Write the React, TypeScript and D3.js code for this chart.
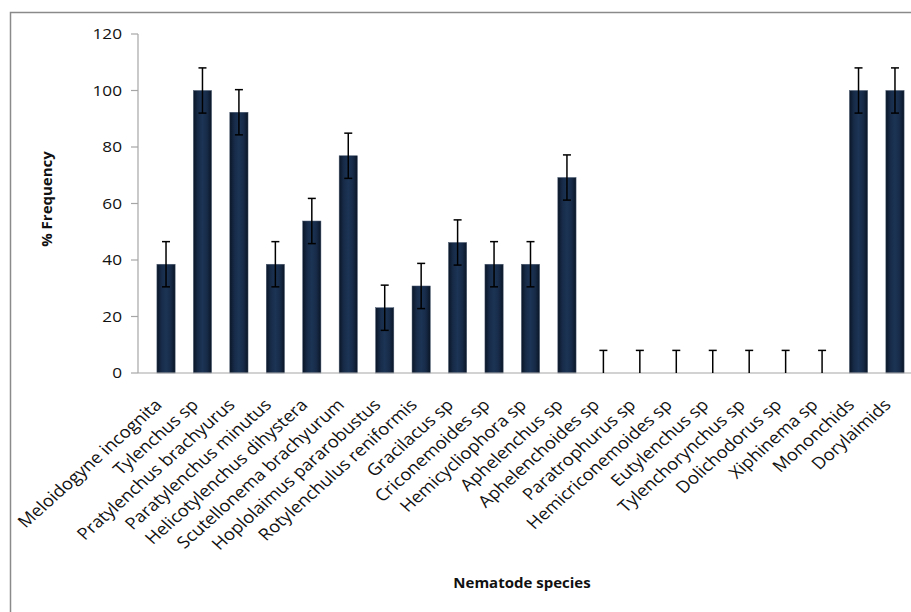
import * as d3 from "d3";

const species = [
  "Meloidogyne incognita",
  "Tylenchus sp",
  "Pratylenchus brachyurus",
  "Paratylenchus minutus",
  "Helicotylenchus dihystera",
  "Scutellonema brachyurum",
  "Hoplolaimus pararobustus",
  "Rotylenchulus reniformis",
  "Gracilacus sp",
  "Criconemoides sp",
  "Hemicycliophora sp",
  "Aphelenchus sp",
  "Aphelenchoides sp",
  "Paratrophurus sp",
  "Hemicriconemoides sp",
  "Eutylenchus sp",
  "Tylenchorynchus sp",
  "Dolichodorus sp",
  "Xiphinema sp",
  "Mononchids",
  "Dorylaimids",
];

const frequency = [
  38.5, 100, 92.3, 38.5, 53.8, 76.9, 23.1, 30.8, 46.2, 38.5, 38.5, 69.2,
  0, 0, 0, 0, 0, 0, 0, 100, 100,
];

const errors = [
  8, 8, 8, 8, 8, 8, 8, 8, 8, 8, 8, 8, 8, 8, 8, 8, 8, 8, 8, 8, 8,
];

const yTicks = [0, 20, 40, 60, 80, 100, 120];

const width = 911;
const height = 612;
const axisLeft = 138;
const stretch = 1.12;

export default function App() {
  const x = d3
    .scaleBand<string>()
    .domain(species)
    .range([147.8, 913.2])
    .paddingInner(0.5)
    .paddingOuter(0.25);

  const y = d3.scaleLinear().domain([0, 120]).range([373, 34]);

  const font = "'Open Sans', sans-serif";

  return (
    <div style={{ position: "absolute", left: 0, top: 0 }}>
      <svg width={width} height={height} style={{ display: "block", background: "#fff" }}>
        <defs>
          <linearGradient id="barGrad" x1="0" x2="1" y1="0" y2="0">
            <stop offset="0%" stopColor="#0a1526" />
            <stop offset="25%" stopColor="#172b48" />
            <stop offset="50%" stopColor="#1c3455" />
            <stop offset="75%" stopColor="#172b48" />
            <stop offset="100%" stopColor="#0a1526" />
          </linearGradient>
        </defs>

        {/* outer chart border */}
        <rect x={10.5} y={12.5} width={1000} height={1000} fill="none" stroke="#8a8a8a" strokeWidth={1.5} />

        {/* y axis */}
        <line x1={axisLeft} x2={axisLeft} y1={y(120)} y2={y(0)} stroke="#a6a6a6" strokeWidth={1.2} />
        {yTicks.map((t) => (
          <g key={t} transform={`translate(0,${y(t)})`}>
            <line x1={axisLeft - 7} x2={axisLeft} stroke="#a6a6a6" strokeWidth={1.2} />
            <text
              transform={`translate(122,0) scale(${stretch * 1.06},1)`}
              textAnchor="end"
              dy="0.36em"
              fontFamily={font}
              fontSize={14.5}
              fill="#111"
            >
              {t}
            </text>
          </g>
        ))}

        {/* bars */}
        {species.map((s, i) => (
          <rect
            key={s}
            x={x(s)}
            y={y(frequency[i])}
            width={x.bandwidth()}
            height={y(0) - y(frequency[i])}
            fill="url(#barGrad)"
            stroke="#4a5a70"
            strokeWidth={0.5}
          />
        ))}

        {/* x axis */}
        <line x1={axisLeft} x2={width} y1={y(0)} y2={y(0)} stroke="#a6a6a6" strokeWidth={1.2} />

        {/* error bars */}
        {species.map((s, i) => {
          const cx = (x(s) ?? 0) + x.bandwidth() / 2;
          const top = y(frequency[i] + errors[i]);
          const bot = y(Math.max(0, frequency[i] - errors[i]));
          return (
            <g key={s} stroke="#000" strokeWidth={1.5}>
              <line x1={cx} x2={cx} y1={top} y2={bot} />
              <line x1={cx - 4} x2={cx + 4} y1={top} y2={top} />
              {frequency[i] > 0 && <line x1={cx - 4} x2={cx + 4} y1={bot} y2={bot} />}
            </g>
          );
        })}

        {/* category labels */}
        {species.map((s) => {
          const cx = (x(s) ?? 0) + x.bandwidth() / 2;
          return (
            <text
              key={s}
              transform={`translate(${cx - 3},406) scale(${stretch},1) rotate(-45)`}
              textAnchor="end"
              fontFamily={font}
              fontSize={16.5}
              fill="#111"
            >
              {s}
            </text>
          );
        })}

        {/* axis titles */}
        <text
          transform="translate(52,199) rotate(-90)"
          textAnchor="middle"
          fontFamily={font}
          fontWeight="bold"
          fontSize={15}
          fill="#111"
        >
          % Frequency
        </text>
        <text
          x={522}
          y={588}
          textAnchor="middle"
          fontFamily={font}
          fontWeight="bold"
          fontSize={15}
          fill="#111"
        >
          Nematode species
        </text>
      </svg>
    </div>
  );
}
